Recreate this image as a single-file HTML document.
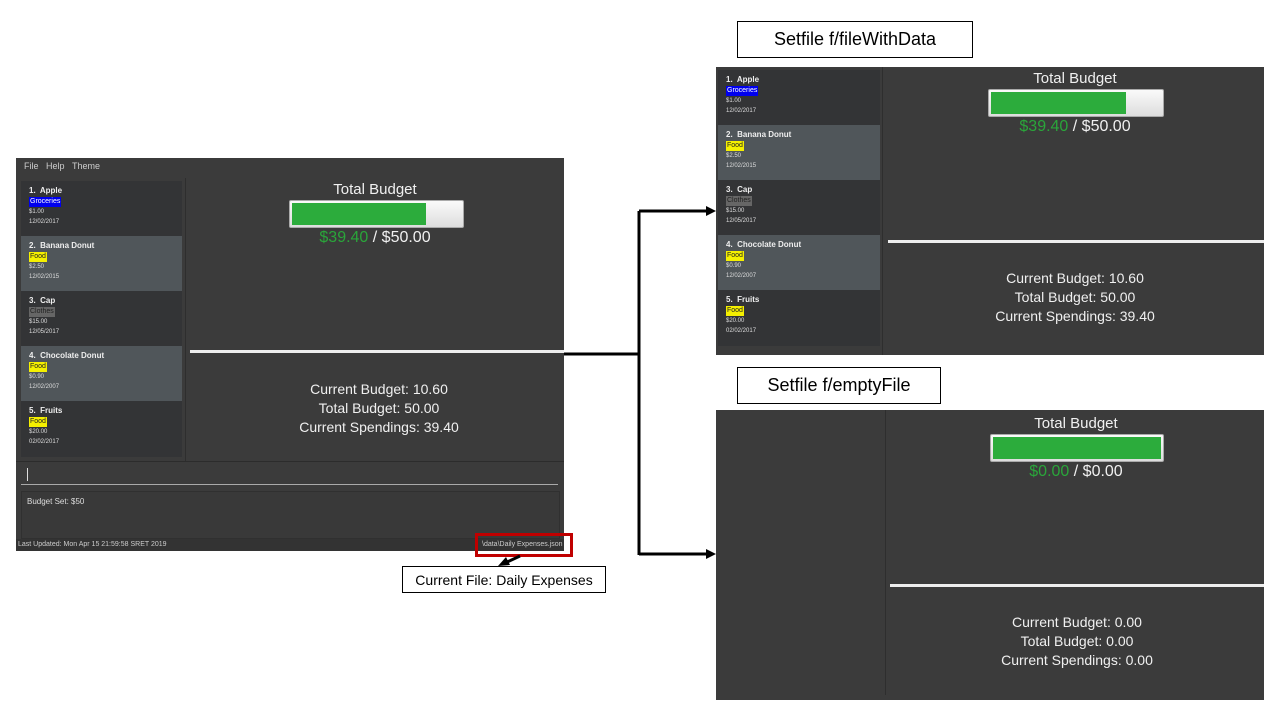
<!DOCTYPE html>
<html><head><meta charset="utf-8"><style>
body{margin:0;width:1280px;height:720px;background:#fff;position:relative;overflow:hidden;font-family:"Liberation Sans",sans-serif}
.a{position:absolute}
.win{background:#3b3b3b}
.list{background:#333436}
.it{position:absolute;left:0;width:100%;height:55px;color:#fff}
.it.sel{background:#50565a}
.it .t{position:absolute;left:8px;top:5px;font-size:8px;font-weight:bold;color:#eee}
.it .g{position:absolute;left:8px;top:16px;font-size:7px;padding:0 1px;line-height:10px}
.it .p{position:absolute;left:8px;top:28px;font-size:6px;color:#ddd}
.it .d{position:absolute;left:8px;top:38px;font-size:6px;color:#ddd}
.gr{background:#0000ee;color:#fff}.fd{background:#f5f000;color:#222}.cl{background:#666;color:#222}
.ctr{text-align:center;color:#f0f0f0}
.bar{background:linear-gradient(#fafafa,#ddd);border:1px solid #aaa;border-radius:2px}
.fill{position:absolute;left:2px;top:2px;bottom:2px;background:#2cac3c}
.lbl{position:absolute;background:#fff;border:1px solid #000;font-size:18px;display:flex;align-items:center;justify-content:center;color:#000}
</style></head><body>

<!-- Main window -->
<div class="a win" style="left:16px;top:158px;width:548px;height:393px"></div>
<div class="a" style="left:24px;top:161px;font-size:9px;color:#ccc">File&nbsp;&nbsp;&nbsp;Help&nbsp;&nbsp;&nbsp;Theme</div>
<div class="a list" style="left:21px;top:181px;width:161px;height:276px">
 <div class="it" style="top:0"><div class="t">1.&nbsp; Apple</div><div class="g gr">Groceries</div><div class="p">$1.00</div><div class="d">12/02/2017</div></div>
 <div class="it sel" style="top:55px"><div class="t">2.&nbsp; Banana Donut</div><div class="g fd">Food</div><div class="p">$2.50</div><div class="d">12/02/2015</div></div>
 <div class="it" style="top:110px"><div class="t">3.&nbsp; Cap</div><div class="g cl">Clothes</div><div class="p">$15.00</div><div class="d">12/05/2017</div></div>
 <div class="it sel" style="top:165px"><div class="t">4.&nbsp; Chocolate Donut</div><div class="g fd">Food</div><div class="p">$0.90</div><div class="d">12/02/2007</div></div>
 <div class="it" style="top:220px"><div class="t">5.&nbsp; Fruits</div><div class="g fd">Food</div><div class="p">$20.00</div><div class="d">02/02/2017</div></div>
</div>
<div class="a" style="left:185px;top:178px;width:1px;height:283px;background:#2e2e2e"></div>
<div class="a ctr" style="left:186px;top:181px;width:378px;font-size:15px">Total Budget</div>
<div class="a bar" style="left:289px;top:200px;width:173px;height:26px"><div class="fill" style="width:134px"></div></div>
<div class="a ctr" style="left:186px;top:229px;width:378px;font-size:16px"><span style="color:#2aa53a">$39.40</span> / $50.00</div>
<div class="a" style="left:190px;top:350px;width:374px;height:3px;background:#eee"></div>
<div class="a ctr" style="left:192px;top:380px;width:374px;font-size:14px;line-height:19px">Current Budget: 10.60<br>Total Budget: 50.00<br>Current Spendings: 39.40</div>
<div class="a" style="left:16px;top:461px;width:548px;height:1px;background:#2c2c2c"></div>
<div class="a" style="left:27px;top:468px;width:1px;height:13px;background:#ddd"></div>
<div class="a" style="left:21px;top:484px;width:537px;height:1px;background:#aaa"></div>
<div class="a" style="left:21px;top:491px;width:537px;height:46px;background:#393939;border:1px solid #303030"></div>
<div class="a" style="left:27px;top:497px;font-size:8px;color:#ddd">Budget Set: $50</div>
<div class="a" style="left:16px;top:539px;width:548px;height:12px;background:#333"></div>
<div class="a" style="left:18px;top:541px;font-size:7px;color:#ccc">Last Updated: Mon Apr 15 21:59:58 SRET 2019</div>
<div class="a" style="left:482px;top:541px;font-size:7px;color:#ccc">\data\Daily Expenses.json</div>
<div class="a" style="left:475px;top:533px;width:92px;height:18px;border:3px solid #c00000"></div>
<div class="lbl" style="left:402px;top:566px;width:202px;height:25px;font-size:14px">Current File: Daily Expenses</div>

<!-- Connectors -->
<svg class="a" style="left:0;top:0" width="1280" height="720">
 <path d="M564 354 H639 M639 211 V555 M639 211 H708 M639 554 H708" stroke="#000" stroke-width="3" fill="none"/>
 <polygon points="716,211 706,206 706,216" fill="#000"/>
 <polygon points="716,554 706,549 706,559" fill="#000"/>
 <line x1="520" y1="556" x2="505" y2="563" stroke="#000" stroke-width="3"/>
 <polygon points="498,566 506,557 510,565" fill="#000"/>
</svg>

<!-- Top right window -->
<div class="lbl" style="left:737px;top:21px;width:234px;height:35px">Setfile f/fileWithData</div>
<div class="a win" style="left:716px;top:67px;width:548px;height:288px"></div>
<div class="a list" style="left:718px;top:70px;width:162px;height:276px">
 <div class="it" style="top:0"><div class="t">1.&nbsp; Apple</div><div class="g gr">Groceries</div><div class="p">$1.00</div><div class="d">12/02/2017</div></div>
 <div class="it sel" style="top:55px"><div class="t">2.&nbsp; Banana Donut</div><div class="g fd">Food</div><div class="p">$2.50</div><div class="d">12/02/2015</div></div>
 <div class="it" style="top:110px"><div class="t">3.&nbsp; Cap</div><div class="g cl">Clothes</div><div class="p">$15.00</div><div class="d">12/05/2017</div></div>
 <div class="it sel" style="top:165px"><div class="t">4.&nbsp; Chocolate Donut</div><div class="g fd">Food</div><div class="p">$0.90</div><div class="d">12/02/2007</div></div>
 <div class="it" style="top:220px"><div class="t">5.&nbsp; Fruits</div><div class="g fd">Food</div><div class="p">$20.00</div><div class="d">02/02/2017</div></div>
</div>
<div class="a" style="left:882px;top:67px;width:1px;height:288px;background:#2e2e2e"></div>
<div class="a ctr" style="left:886px;top:70px;width:378px;font-size:15px">Total Budget</div>
<div class="a bar" style="left:988px;top:89px;width:174px;height:26px"><div class="fill" style="width:135px"></div></div>
<div class="a ctr" style="left:886px;top:118px;width:378px;font-size:16px"><span style="color:#2aa53a">$39.40</span> / $50.00</div>
<div class="a" style="left:888px;top:240px;width:376px;height:3px;background:#eee"></div>
<div class="a ctr" style="left:886px;top:269px;width:378px;font-size:14px;line-height:19px">Current Budget: 10.60<br>Total Budget: 50.00<br>Current Spendings: 39.40</div>

<!-- Bottom right window -->
<div class="lbl" style="left:737px;top:367px;width:202px;height:35px">Setfile f/emptyFile</div>
<div class="a win" style="left:716px;top:410px;width:548px;height:290px"></div>
<div class="a" style="left:885px;top:410px;width:1px;height:285px;background:#2e2e2e"></div>
<div class="a ctr" style="left:888px;top:415px;width:376px;font-size:15px">Total Budget</div>
<div class="a bar" style="left:990px;top:434px;width:172px;height:26px"><div class="fill" style="right:2px"></div></div>
<div class="a ctr" style="left:888px;top:463px;width:376px;font-size:16px"><span style="color:#2aa53a">$0.00</span> / $0.00</div>
<div class="a" style="left:890px;top:584px;width:374px;height:3px;background:#eee"></div>
<div class="a ctr" style="left:890px;top:613px;width:374px;font-size:14px;line-height:19px">Current Budget: 0.00<br>Total Budget: 0.00<br>Current Spendings: 0.00</div>
</body></html>
